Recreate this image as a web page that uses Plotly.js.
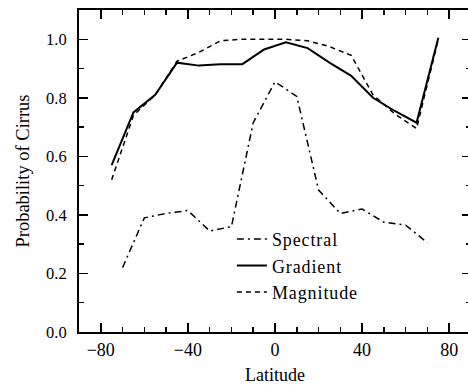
<!DOCTYPE html>
<html>
<head>
<meta charset="utf-8">
<script src="https://cdn.plot.ly/plotly-3.0.1.min.js"></script>
<style>
html,body{margin:0;padding:0;overflow:hidden;background:#fff;width:468px;height:385px;}
#chart{width:480px;height:385px;}
.legendtext{letter-spacing:0.9px;}
</style>
</head>
<body>
<div id="chart"></div>
<script>
// Data
const latGM = [-75, -65, -55, -45, -35, -25, -15, -5, 5, 15, 25, 35, 45, 55, 65, 75];
const gradient = [0.57, 0.75, 0.81, 0.92, 0.91, 0.915, 0.915, 0.965, 0.99, 0.97, 0.92, 0.875, 0.80, 0.755, 0.715, 1.005];
const magnitude = [0.52, 0.74, 0.81, 0.925, 0.955, 0.995, 1.0, 1.0, 1.0, 0.995, 0.975, 0.945, 0.81, 0.745, 0.695, 1.0];
const latS = [-70, -60, -50, -40, -30, -20, -10, 0, 10, 20, 30, 40, 50, 60, 70];
const spectral = [0.22, 0.39, 0.405, 0.415, 0.345, 0.36, 0.715, 0.855, 0.805, 0.485, 0.405, 0.42, 0.375, 0.365, 0.305];
const xTickVals = [-80, -40, 0, 40, 80];
const xTickText = ['\u221280', '\u221240', '0', '40', '80'];
const yTickVals = [0, 0.2, 0.4, 0.6, 0.8, 1.0];
const yTickText = ['0.0', '0.2', '0.4', '0.6', '0.8', '1.0'];

const font = {family: '"Liberation Serif", "Times New Roman", serif', color: '#000'};
function f(size) { return Object.assign({size: size}, font); }

const traces = [
  {x: latS, y: spectral, name: 'Spectral', mode: 'lines',
   line: {color: '#000', width: 1.5, dash: '7px,4px,2px,4px'}},
  {x: latGM, y: gradient, name: 'Gradient', mode: 'lines',
   line: {color: '#000', width: 2}},
  {x: latGM, y: magnitude, name: 'Magnitude', mode: 'lines',
   line: {color: '#000', width: 1.5, dash: '5px,4px'}}
];

const axisCommon = {
  showgrid: false, zeroline: false, showline: true, linecolor: '#000', linewidth: 2,
  mirror: 'ticks', ticks: 'inside', ticklen: 9, tickwidth: 1.5, tickcolor: '#000'
};

const layout = {
  width: 480, height: 385,
  margin: {l: 79, r: 9, t: 10, b: 53},
  paper_bgcolor: '#fff', plot_bgcolor: '#fff',
  font: font,
  showlegend: true,
  legend: {x: 0.39, xanchor: 'left', y: 0.345, yanchor: 'top', bgcolor: 'rgba(0,0,0,0)',
           font: f(18), itemwidth: 30},
  xaxis: Object.assign({}, axisCommon, {
    range: [-90, 90], tickvals: xTickVals, ticktext: xTickText, tickfont: f(18),
    minor: {dtick: 10, tick0: 0, ticks: 'inside', ticklen: 5, tickwidth: 1.5, tickcolor: '#000'},
    title: {text: 'Latitude', font: f(18), standoff: 11}
  }),
  yaxis: Object.assign({}, axisCommon, {
    range: [0, 1.1], tickvals: yTickVals, ticktext: yTickText, tickfont: f(16.5),
    ticklabelstandoff: 7,
    minor: {dtick: 0.1, tick0: 0, ticks: 'inside', ticklen: 5, tickwidth: 1.5, tickcolor: '#000'},
    title: {text: 'Probability of Cirrus', font: f(18.5), standoff: 12}
  })
};

Plotly.newPlot('chart', traces, layout, {displayModeBar: false, staticPlot: true});
</script>
</body>
</html>
